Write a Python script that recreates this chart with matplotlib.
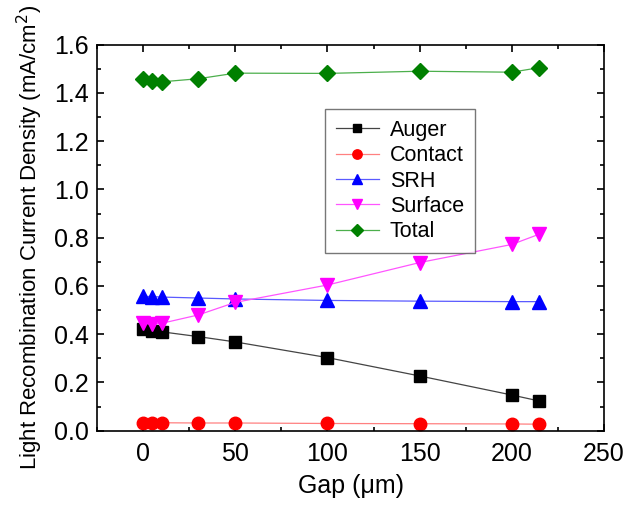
import matplotlib
matplotlib.use("Agg")
import matplotlib.pyplot as plt
from matplotlib.ticker import MultipleLocator

plt.rcParams['font.family'] = ['Liberation Sans', 'DejaVu Sans']

gap = [0, 5, 10, 30, 50, 100, 150, 200, 215]
auger = [0.420, 0.415, 0.410, 0.390, 0.368, 0.303, 0.227, 0.148, 0.123]
contact = [0.034, 0.033, 0.033, 0.032, 0.032, 0.030, 0.029, 0.028, 0.027]
srh = [0.557, 0.556, 0.554, 0.550, 0.546, 0.540, 0.537, 0.535, 0.535]
surface = [0.445, 0.442, 0.445, 0.480, 0.532, 0.604, 0.697, 0.772, 0.815]
total = [1.457, 1.449, 1.446, 1.459, 1.482, 1.481, 1.490, 1.486, 1.505]

series = [
    ("Auger", auger, "black", "#444444", "s", 8),
    ("Contact", contact, "red", "#ff8080", "o", 9),
    ("SRH", srh, "blue", "#5a5aff", "^", 10),
    ("Surface", surface, "magenta", "#ff55ff", "v", 10),
    ("Total", total, "green", "#4caf4c", "D", 8.5),
]

fig = plt.figure(figsize=(6.28, 5.09), dpi=100)
ax = fig.add_axes([0.1545, 0.1538, 0.8073, 0.7584])

for name, vals, mc, lc, mk, ms in series:
    ax.plot(gap, vals, color=lc, lw=0.9, marker=mk, markersize=ms,
            markerfacecolor=mc, markeredgecolor=mc, label=name)

ax.set_xlim(-25, 250)
ax.set_ylim(0, 1.6)
ax.xaxis.set_major_locator(MultipleLocator(50))
ax.xaxis.set_minor_locator(MultipleLocator(25))
ax.yaxis.set_major_locator(MultipleLocator(0.2))
ax.yaxis.set_minor_locator(MultipleLocator(0.1))
ax.yaxis.set_major_formatter(matplotlib.ticker.FormatStrFormatter('%.1f'))
ax.tick_params(which='both', direction='in', top=True, right=True, width=1.2)
ax.tick_params(which='major', length=5, labelsize=18, pad=6)
ax.tick_params(axis='x', which='major', pad=8)
ax.tick_params(which='minor', length=3)
for s in ax.spines.values():
    s.set_linewidth(1.2)

ax.set_xlabel("Gap (\u03bcm)", fontsize=18, labelpad=6)
ax.set_ylabel("Light Recombination Current Density (mA/cm$^2$)", fontsize=16, labelpad=6)

leg = ax.legend(loc='upper left', bbox_to_anchor=(0.45, 0.833), fontsize=15.5,
                frameon=True, fancybox=False, edgecolor='#555555',
                handlelength=2.0, labelspacing=0.2, borderpad=0.5,
                markerscale=0.75, handletextpad=0.5, borderaxespad=0)
leg.get_frame().set_linewidth(1.0)

fig.savefig("out.png", dpi=100)
